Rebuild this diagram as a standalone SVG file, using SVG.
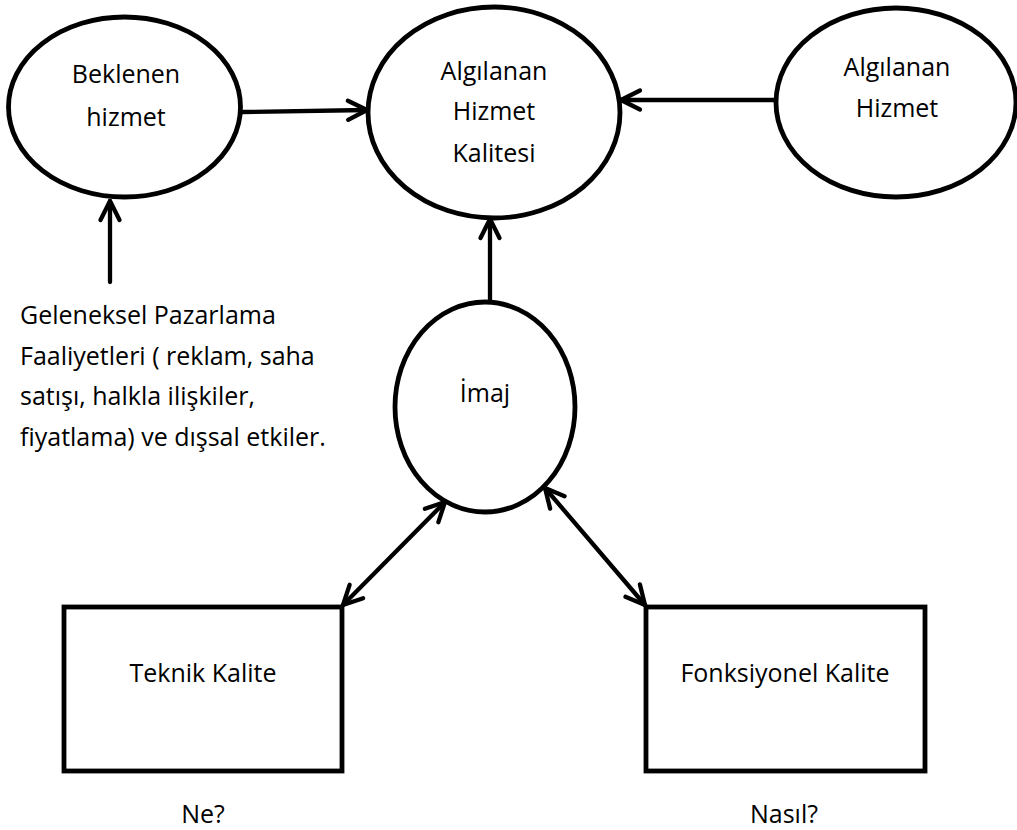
<svg xmlns="http://www.w3.org/2000/svg" width="1017" height="830" viewBox="0 0 1017 830">
  <style>
    .shape { fill: #ffffff; stroke: #000000; stroke-width: 4.8; }
    .link { fill: none; stroke: #000000; stroke-width: 4.3; stroke-linecap: round; }
    .label { font-family: "Open Sans", "Noto Sans", "Liberation Sans", sans-serif; font-size: 25px; fill: #000000; text-anchor: middle; }
    .note { font-family: "Open Sans", "Noto Sans", "Liberation Sans", sans-serif; font-size: 25px; fill: #000000; }
  </style>
  <defs>
    <!-- open chevron arrowhead -->
    <marker id="head" markerUnits="userSpaceOnUse" viewBox="-26 -14 30 28" refX="0" refY="0" markerWidth="30" markerHeight="28" orient="auto-start-reverse" overflow="visible">
      <path d="M -19 -9.5 L 0 0 L -19 9.5" fill="none" stroke="#000000" stroke-width="4.3" stroke-linecap="round" stroke-linejoin="round"/>
    </marker>
  </defs>

  <rect x="0" y="0" width="1017" height="830" fill="#ffffff"/>

  <!-- connectors -->
  <g id="connectors">
    <line class="link" x1="242" y1="112" x2="367" y2="110" marker-end="url(#head)"/>
    <line class="link" x1="776" y1="100" x2="621" y2="100" marker-end="url(#head)"/>
    <line class="link" x1="110" y1="282" x2="110" y2="201" marker-end="url(#head)"/>
    <line class="link" x1="490" y1="302" x2="490" y2="219" marker-end="url(#head)"/>
    <line class="link" x1="445" y1="502" x2="343" y2="605" marker-start="url(#head)" marker-end="url(#head)"/>
    <line class="link" x1="545" y1="488" x2="645" y2="605" marker-start="url(#head)" marker-end="url(#head)"/>
  </g>

  <g id="beklenen-hizmet">
    <ellipse class="shape" cx="124.5" cy="107" rx="116" ry="90"/>
    <text class="label" x="126" y="83">Beklenen</text>
    <text class="label" x="126" y="126">hizmet</text>
  </g>

  <g id="algilanan-hizmet-kalitesi">
    <ellipse class="shape" cx="494" cy="112.5" rx="126" ry="105.5"/>
    <text class="label" x="494" y="80">Algılanan</text>
    <text class="label" x="494" y="120">Hizmet</text>
    <text class="label" x="494" y="162">Kalitesi</text>
  </g>

  <g id="algilanan-hizmet">
    <ellipse class="shape" cx="896" cy="102.5" rx="120" ry="94.5"/>
    <text class="label" x="897" y="76">Algılanan</text>
    <text class="label" x="897" y="117">Hizmet</text>
  </g>

  <g id="imaj">
    <ellipse class="shape" cx="485" cy="407" rx="90" ry="105"/>
    <text class="label" x="485" y="402">İmaj</text>
  </g>

  <g id="pazarlama-faaliyetleri">
    <text class="note" x="20" y="324">Geleneksel Pazarlama</text>
    <text class="note" x="20" y="365">Faaliyetleri ( reklam, saha</text>
    <text class="note" x="20" y="405">satışı, halkla ilişkiler,</text>
    <text class="note" x="20" y="446">fiyatlama) ve dışsal etkiler.</text>
  </g>

  <g id="teknik-kalite">
    <rect class="shape" x="64" y="607" width="278" height="164"/>
    <text class="label" x="203" y="682">Teknik Kalite</text>
    <text class="label" x="203" y="823">Ne?</text>
  </g>

  <g id="fonksiyonel-kalite">
    <rect class="shape" x="646" y="607" width="279" height="164"/>
    <text class="label" x="785" y="682">Fonksiyonel Kalite</text>
    <text class="label" x="784" y="823">Nasıl?</text>
  </g>
</svg>
